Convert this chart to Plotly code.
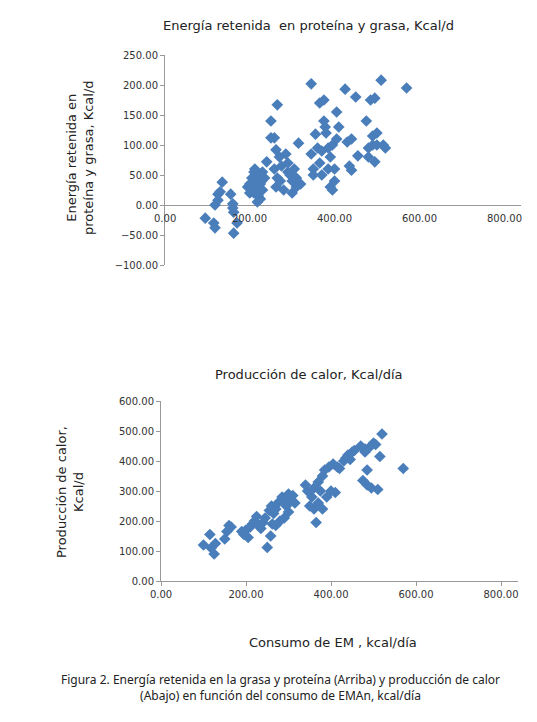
import plotly.graph_objects as go

# top chart: retained energy vs ME intake
top_x = [95, 115, 118, 118, 125, 130, 125, 135, 155, 160, 162, 162, 170, 160,
         195, 200, 205, 205, 210, 210, 215, 215, 220, 220, 225, 225, 230, 230, 235, 200, 212, 218, 228, 208,
         250, 250, 240, 258, 265, 262, 258, 262, 270, 272, 280, 285, 290, 295, 300, 305, 310, 315, 300, 290, 310, 320, 275, 265,
         345, 345, 350, 355, 360, 365, 365, 370, 375, 375, 378, 380, 385, 390, 390, 395, 400, 400, 405, 405, 410, 395, 370, 350, 385,
         425, 430, 440, 435, 440, 450, 455, 475, 480, 485, 490, 495, 495, 500, 500, 510, 515, 520, 490, 570, 480]
top_y = [-22, -30, -38, 0, 18, 22, 8, 38, 18, -5, -12, -47, -30, 2,
         30, 35, 25, 45, 55, 20, 40, 30, 50, 15, 35, 10, 55, 25, 45, 20, 60, 5, 40, 38,
         140, 112, 72, 112, 167, 92, 60, 30, 80, 40, 25, 85, 70, 50, 40, 60, 30, 103, 20, 55, 45, 35, 65, 45,
         202, 85, 60, 118, 95, 70, 170, 50, 175, 140, 130, 120, 95, 80, 30, 100, 60, 40, 110, 155, 130, 25, 90, 50, 60,
         193, 105, 110, 65, 58, 180, 82, 140, 95, 175, 100, 72, 178, 120, 100, 208, 100, 95, 115, 195, 80]

# bottom chart: heat production vs ME intake
bot_x = [100, 115, 118, 125, 128, 150, 155, 160, 165,
         190, 195, 200, 205, 210, 215, 220, 225, 230, 235, 240, 245, 250, 255, 258, 260, 262, 265, 270, 275, 280,
         285, 290, 295, 300, 305, 310, 315, 300, 290, 270,
         340, 345, 350, 355, 360, 365, 370, 370, 375, 380, 385, 390, 395, 400, 405, 410, 415, 420, 380, 360,
         430, 435, 440, 445, 450, 455, 470, 475, 480, 485, 485, 490, 495, 500, 505, 510, 515, 520, 570, 480]
bot_y = [120, 155, 110, 90, 125, 140, 165, 185, 180,
         165, 155, 170, 145, 180, 190, 200, 215, 185, 175, 195, 210, 112, 235, 150, 250, 190, 225, 240, 260, 200,
         280, 265, 250, 290, 270, 285, 260, 230, 210, 185,
         320, 300, 250, 280, 240, 195, 330, 260, 300, 350, 370, 280, 380, 300, 390, 295, 380, 375, 240, 310,
         400, 410, 420, 405, 430, 435, 450, 335, 430, 370, 320, 445, 310, 460, 455, 305, 415, 490, 375, 440]

X_TICKS = [0, 200, 400, 600, 800]
BLUE = "#4a7ebb"
FONT = "DejaVu Sans"

fig = go.Figure()
marker = dict(symbol="diamond", size=9, color=BLUE)
fig.add_trace(go.Scatter(x=top_x, y=top_y, mode="markers", marker=marker,
                         xaxis="x", yaxis="y", showlegend=False))
fig.add_trace(go.Scatter(x=bot_x, y=bot_y, mode="markers", marker=marker,
                         xaxis="x2", yaxis="y2", showlegend=False))

tickfont = dict(family=FONT, size=10, color="#333")
axis_common = dict(showgrid=False, tickfont=tickfont, tickformat=".2f", automargin=False)

fig.update_layout(
    width=537, height=722, margin=dict(l=0, r=0, t=0, b=0, autoexpand=False),
    plot_bgcolor="white", paper_bgcolor="white",
    xaxis=dict(domain=[157/537, 513/537], range=[0, 840], anchor="y",
               showticklabels=False, showline=False, ticks="",
               zeroline=False, **axis_common),
    yaxis=dict(domain=[465/722, 675/722], range=[-100, 250], dtick=50,
               anchor="x", showline=True, linecolor="#999", ticks="outside",
               ticklen=4, tickcolor="#999", zeroline=True, zerolinecolor="#999",
               zerolinewidth=1, **axis_common),
    xaxis2=dict(domain=[153/537, 510/537], range=[0, 840], tickvals=X_TICKS,
                anchor="y2", showline=True, linecolor="#999", ticks="outside",
                ticklen=4, tickcolor="#999", zeroline=False, **axis_common),
    yaxis2=dict(domain=[149/722, 329/722], range=[0, 600], dtick=100,
                anchor="x2", showline=True, linecolor="#999", ticks="outside",
                ticklen=4, tickcolor="#999", zeroline=False, **axis_common),
)

# x tick labels of the top chart sit on the y=0 line
for v in X_TICKS:
    fig.add_annotation(x=v, y=0, xref="x", yref="y", text=f"{v:.2f}",
                       showarrow=False, yshift=-13, font=tickfont)

title_font = dict(family=FONT, size=13, color="#222")
ann = [
    (300, 18, "Energía retenida  en proteína y grasa, Kcal/d", 0, title_font),
    (300, 366, "Producción de calor, Kcal/día", 0, title_font),
    (325, 634, "Consumo de EM , kcal/día", 0, title_font),
    (72, 150, "Energía retenida en<br>proteína y grasa, Kcal/d", -90, title_font),
    (62, 484, "Producción de calor,<br>Kcal/d", -90, title_font),
]
for x, y, t, ang, f in ann:
    fig.add_annotation(x=x/537, y=1 - y/722, xref="paper", yref="paper", text=t,
                       textangle=ang, showarrow=False, font=f,
                       xanchor="center", yanchor="middle")

fig.add_annotation(x=272/537, y=1 - 679/722, xref="paper", yref="paper",
                   text="Figura 2. Energía retenida en la grasa y proteína (Arriba) y producción de calor<br>"
                        "(Abajo) en función del consumo de EMAn, kcal/día",
                   showarrow=False, xanchor="center", yanchor="middle",
                   font=dict(family="Noto Sans", size=12, color="#222"))

fig.write_html("out.html")
